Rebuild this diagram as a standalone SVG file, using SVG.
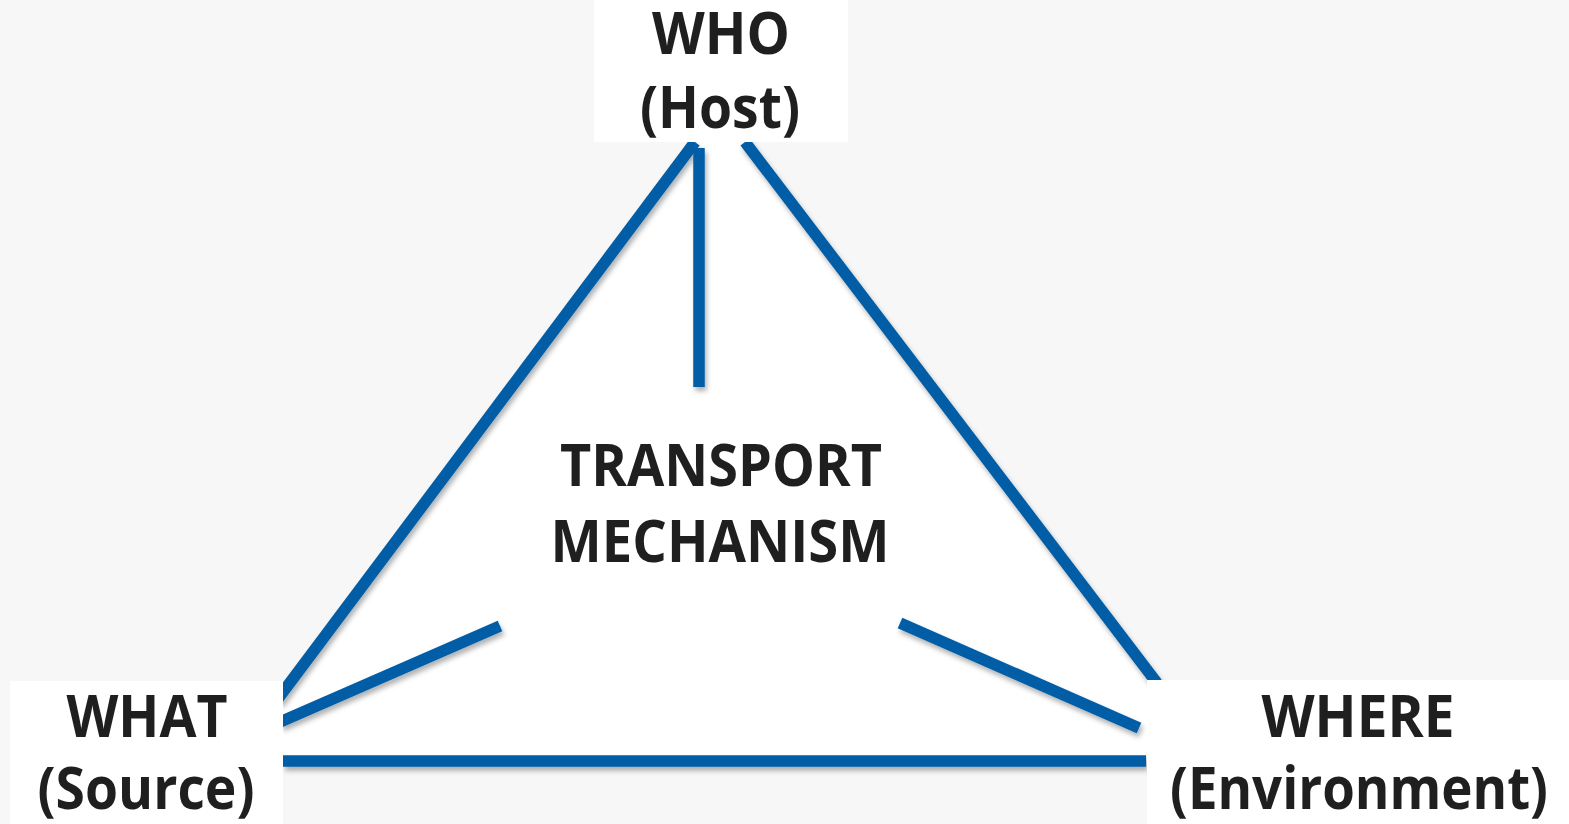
<svg xmlns="http://www.w3.org/2000/svg" width="1569" height="824" viewBox="0 0 1569 824">
<defs>
<filter id="sh" x="-10%" y="-10%" width="120%" height="130%">
<feDropShadow dx="2" dy="4" stdDeviation="2.5" flood-color="#000" flood-opacity="0.3"/>
</filter>
<style>
.ln{stroke:#005DA6;stroke-width:11.5;fill:none;stroke-linecap:butt}
.t{font-family:"Open Sans","Noto Sans","Liberation Sans",sans-serif;font-weight:700;font-size:59px;fill:#1f1f1f;text-anchor:middle}
.box{fill:#ffffff}
</style>
</defs>
<rect x="0" y="0" width="1569" height="824" fill="#f7f7f7"/>
<polygon points="694,142 745,142 1160,686 1146,757 283,757 283,690" fill="#ffffff"/>
<g id="connectors" filter="url(#sh)">
<line class="ln" x1="695" y1="142" x2="277" y2="700"/>
<line class="ln" x1="745" y1="142" x2="1157" y2="683"/>
<line class="ln" x1="699" y1="148" x2="699" y2="387"/>
<line class="ln" x1="280" y1="722" x2="500" y2="626"/>
<line class="ln" x1="900" y1="623" x2="1139" y2="728"/>
<line class="ln" x1="283" y1="761" x2="1146" y2="761"/>
</g>
<g id="who">
<rect class="box" x="594" y="0" width="254" height="142"/>
<text class="t" x="721" y="54" textLength="138" lengthAdjust="spacingAndGlyphs">WHO</text>
<text class="t" x="720" y="128" textLength="160" lengthAdjust="spacingAndGlyphs">(Host)</text>
</g>
<g id="transport">
<text class="t" x="721" y="486" textLength="322" lengthAdjust="spacingAndGlyphs">TRANSPORT</text>
<text class="t" x="720" y="562" textLength="339" lengthAdjust="spacingAndGlyphs">MECHANISM</text>
</g>
<g id="what">
<rect class="box" x="10" y="681" width="273" height="143"/>
<text class="t" x="147" y="737" textLength="161" lengthAdjust="spacingAndGlyphs">WHAT</text>
<text class="t" x="146" y="809" textLength="217" lengthAdjust="spacingAndGlyphs">(Source)</text>
</g>
<g id="where">
<rect class="box" x="1147" y="680" width="422" height="144"/>
<text class="t" x="1358" y="737" textLength="193" lengthAdjust="spacingAndGlyphs">WHERE</text>
<text class="t" x="1359" y="809" textLength="378" lengthAdjust="spacingAndGlyphs">(Environment)</text>
</g>
</svg>
